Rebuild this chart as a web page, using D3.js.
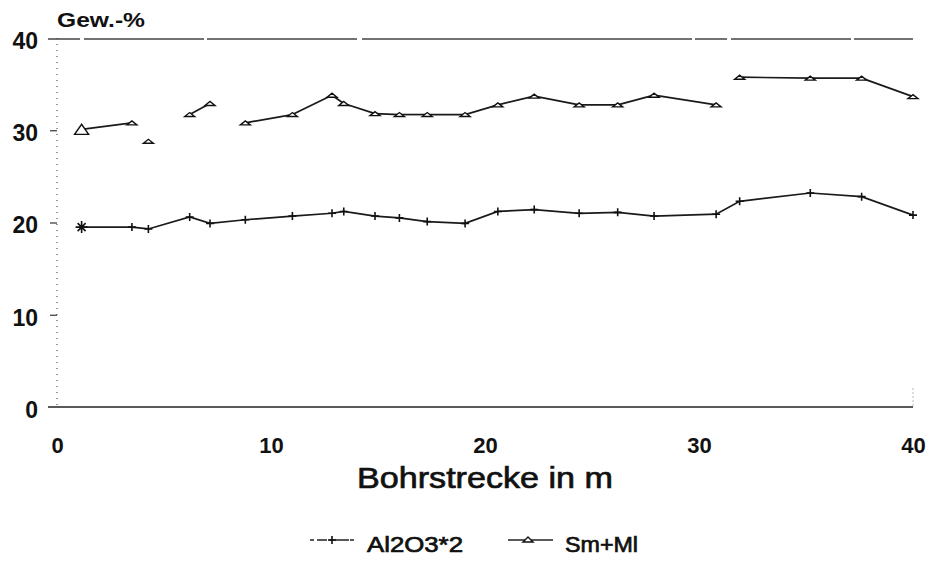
<!DOCTYPE html>
<html lang="de">
	<head>
		<meta charset="utf-8">
		<title>Bohrstrecke</title>
		<script type="text/javascript" src="https://d3js.org/d3.v7.min.js"></script>
		<style type="text/css">
			body { margin:0; background:#fff; }
			svg text { font-family: "Liberation Sans", Arial, sans-serif; font-weight:bold; fill:#111; }
			svg text.med { font-weight:normal; stroke:#111; stroke-width:0.7px; }
			.axis path { display:none; }
			.axis line { stroke:#333; stroke-width:1.2; }
		</style>
	</head>
	<body>
		<svg id="chart"></svg>
		<script type="text/javascript">
			var w = 936;
			var h = 562;

			// sample depths along the borehole (m)
			var depth = [1.15,3.5,4.27,6.2,7.15,8.8,11.0,12.85,13.4,14.86,16.0,17.3,19.07,20.6,22.3,24.4,26.2,27.9,30.8,31.9,35.2,37.6,40.0];
			// Al2O3*2 (Gew.-%)
			var al2o3 = [19.5,19.5,19.3,20.6,19.9,20.3,20.7,21.0,21.2,20.7,20.5,20.1,19.9,21.2,21.4,21.0,21.1,20.7,20.9,22.3,23.2,22.8,20.8];
			// Sm+Ml (Gew.-%)
			var smml = [30.1,30.8,28.8,31.7,32.9,30.8,31.7,33.8,32.9,31.8,31.7,31.7,31.7,32.75,33.7,32.75,32.75,33.8,32.75,35.75,35.65,35.65,33.65];
			// is the Sm+Ml point joined to the one before it?
			var smJoin = [false,true,false,false,true,false,true,true,true,true,true,true,true,true,true,true,true,true,true,false,true,true,true];

			var xTicks = [0,10,20,30,40];
			var yTicks = [0,10,20,30,40];
			var seriesNames = ["Al2O3*2","Sm+Ml"];

			var svg = d3.select("#chart").attr("width",w).attr("height",h);

			var xScale = d3.scaleLinear().domain([0,40]).range([57,913]);
			var yScale = d3.scaleLinear().domain([0,40]).range([407,38]);

			/////////  FRAME  ////////////////////////////////////////

			// dotted y axis
			svg.append("line")
				.attr("x1",xScale(0)).attr("x2",xScale(0))
				.attr("y1",yScale(40)).attr("y2",yScale(0))
				.attr("stroke","#555").attr("stroke-width",1.2)
				.attr("stroke-dasharray","1,5");

			// top and bottom lines
			svg.append("line")
				.attr("x1",xScale(0)-9).attr("x2",xScale(40))
				.attr("y1",yScale(40)+1).attr("y2",yScale(40)+1)
				.attr("stroke","#444").attr("stroke-width",1.3)
				.attr("stroke-dasharray","32,4,120,3,150,5,330,3");
			svg.append("line")
				.attr("x1",xScale(0)-9).attr("x2",xScale(40))
				.attr("y1",yScale(0)).attr("y2",yScale(0))
				.attr("stroke","#222").attr("stroke-width",1.6);
			svg.append("line")
				.attr("x1",xScale(40)).attr("x2",xScale(40))
				.attr("y1",yScale(2)).attr("y2",yScale(0))
				.attr("stroke","#777").attr("stroke-width",1)
				.attr("stroke-dasharray","1,3");

			/////////  AXES  ////////////////////////////////////////

			var yAxis = d3.axisLeft(yScale).tickValues(yTicks).tickSize(7).tickPadding(12);
			var gy = svg.append("g")
				.attr("class","axis")
				.attr("transform","translate(" + xScale(0) + ",0)")
				.call(yAxis);
			gy.selectAll(".tick line").filter(function(d){return d==0 || d==40;}).remove();
			gy.selectAll("text")
				.attr("font-size","23px")
				.attr("dy","0.45em");

			var xAxis = d3.axisBottom(xScale).tickValues(xTicks).tickSize(0).tickPadding(30);
			var gx = svg.append("g")
				.attr("class","axis")
				.attr("transform","translate(0," + yScale(0) + ")")
				.call(xAxis);
			gx.selectAll("text").attr("font-size","22px");

			svg.append("text")
				.attr("x",57).attr("y",27)
				.attr("font-size","21px")
				.attr("textLength",88)
				.attr("lengthAdjust","spacingAndGlyphs")
				.text("Gew.-%");

			svg.append("text")
				.attr("class","med")
				.attr("x",357).attr("y",488)
				.attr("font-size","30px")
				.attr("textLength",256)
				.attr("lengthAdjust","spacingAndGlyphs")
				.text("Bohrstrecke in m");

			/////////  SERIES  ////////////////////////////////////////

			var alData = depth.map(function(d,i){return {x:d, y:al2o3[i]};});
			var smData = depth.map(function(d,i){return {x:d, y:smml[i], join:smJoin[i]};});

			var line = d3.line().x(d=>xScale(d.x)).y(d=>yScale(d.y));

			svg.append("path")
				.datum(alData)
				.attr("d",line)
				.attr("fill","none")
				.attr("stroke","#1a1a1a")
				.attr("stroke-width",1.7);

			// Sm+Ml: only draw segments between joined points
			var smSegs = [];
			for (var i=1;i<smData.length;i++){
				if (smData[i].join) { smSegs.push([smData[i-1],smData[i]]); }
			}
			svg.selectAll("path.smseg")
				.data(smSegs)
				.enter()
				.append("path")
				.attr("class","smseg")
				.attr("d",line)
				.attr("fill","none")
				.attr("stroke","#1a1a1a")
				.attr("stroke-width",1.7);

			// plus markers
			svg.selectAll("path.plus")
				.data(alData)
				.enter()
				.append("path")
				.attr("class","plus")
				.attr("d",function(d,i){
					var cx = xScale(d.x), cy = yScale(d.y), s = (i==0) ? 6 : 4;
					var p = "M"+(cx-s)+","+cy+"H"+(cx+s)+"M"+cx+","+(cy-s)+"V"+(cy+s);
					if (i==0) { p += "M"+(cx-4)+","+(cy-4)+"L"+(cx+4)+","+(cy+4)+"M"+(cx-4)+","+(cy+4)+"L"+(cx+4)+","+(cy-4); }
					return p;
				})
				.attr("stroke","#111")
				.attr("stroke-width",1.6);

			// triangle markers
			svg.selectAll("path.tri")
				.data(smData)
				.enter()
				.append("path")
				.attr("class","tri")
				.attr("d",function(d,i){
					var cx = xScale(d.x), cy = yScale(d.y);
					var hw = (i==0) ? 7 : 5, th = (i==0) ? 10 : 4;
					return "M"+(cx-hw)+","+(cy+th/2)+"L"+(cx+hw)+","+(cy+th/2)+"L"+cx+","+(cy-th/2)+"Z";
				})
				.attr("fill","#fff")
				.attr("stroke","#111")
				.attr("stroke-width",1.4);

			/////////  LEGEND  ////////////////////////////////////////

			var legY = 540;
			var legend = [
				{name:seriesNames[0], x1:310, x2:355, mx:332, tx:367, tw:96, dash:"4,3,10,2,20,1"},
				{name:seriesNames[1], x1:508, x2:553, mx:528, tx:565, tw:73, dash:null}
			];
			var lg = svg.selectAll("g.leg")
				.data(legend)
				.enter()
				.append("g")
				.attr("class","leg");
			lg.append("line")
				.attr("x1",d=>d.x1).attr("x2",d=>d.x2)
				.attr("y1",legY).attr("y2",legY)
				.attr("stroke","#222").attr("stroke-width",1.3)
				.attr("stroke-dasharray",d=>d.dash);
			lg.filter((d,i)=>i==0).append("path")
				.attr("d",d=>"M"+(d.mx-4)+","+legY+"H"+(d.mx+4)+"M"+d.mx+","+(legY-4)+"V"+(legY+4))
				.attr("stroke","#111").attr("stroke-width",1.6);
			lg.filter((d,i)=>i==1).append("path")
				.attr("d",d=>"M"+(d.mx-5)+","+(legY+2)+"L"+(d.mx+5)+","+(legY+2)+"L"+d.mx+","+(legY-3)+"Z")
				.attr("fill","#fff").attr("stroke","#111").attr("stroke-width",1.4);
			lg.append("text")
				.attr("class","med")
				.attr("x",d=>d.tx).attr("y",552)
				.attr("font-size","22px")
				.attr("textLength",d=>d.tw)
				.attr("lengthAdjust","spacingAndGlyphs")
				.text(d=>d.name);
		</script>
	</body>
</html>
